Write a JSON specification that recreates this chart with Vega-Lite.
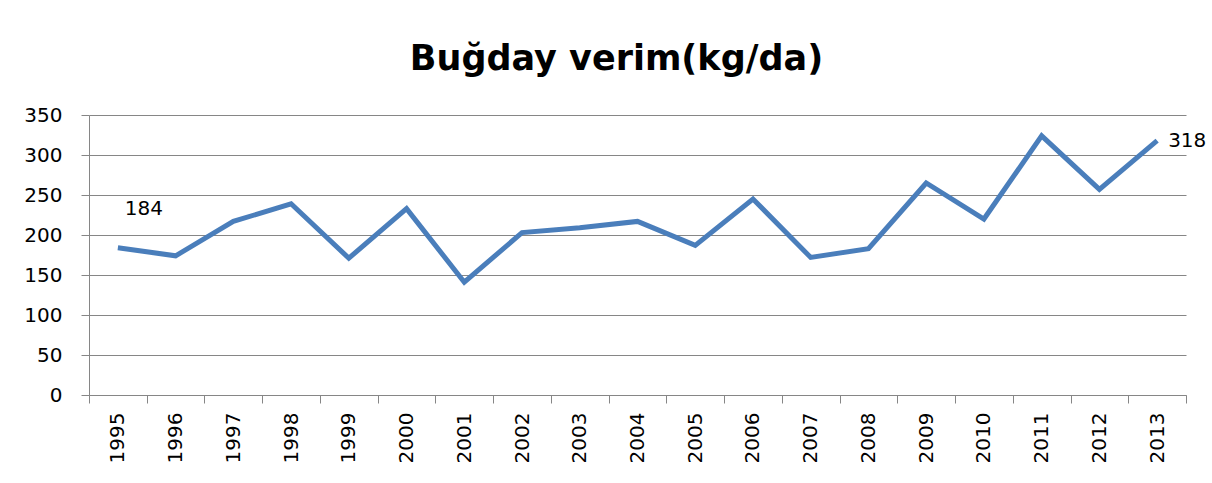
{
  "$schema": "https://vega.github.io/schema/vega-lite/v6.json",
  "width": 1097,
  "height": 280,
  "autosize": "none",
  "padding": {"left": 89, "top": 115, "right": 26, "bottom": 88},
  "background": "white",
  "config": {"view": {"stroke": null}},
  "title": {
    "text": "Buğday verim(kg/da)",
    "font": "DejaVu Sans",
    "fontSize": 35,
    "fontWeight": "bold",
    "color": "black",
    "anchor": "middle",
    "baseline": "alphabetic",
    "dx": -21,
    "offset": 0
  },
  "data": {
    "values": [
      {"year": 1995, "value": 184},
      {"year": 1996, "value": 174},
      {"year": 1997, "value": 217},
      {"year": 1998, "value": 239},
      {"year": 1999, "value": 171},
      {"year": 2000, "value": 233},
      {"year": 2001, "value": 141},
      {"year": 2002, "value": 203},
      {"year": 2003, "value": 209},
      {"year": 2004, "value": 217},
      {"year": 2005, "value": 187},
      {"year": 2006, "value": 245},
      {"year": 2007, "value": 172},
      {"year": 2008, "value": 183},
      {"year": 2009, "value": 265},
      {"year": 2010, "value": 220},
      {"year": 2011, "value": 324},
      {"year": 2012, "value": 257},
      {"year": 2013, "value": 318}
    ]
  },
  "encoding": {
    "x": {
      "field": "year",
      "type": "ordinal",
      "bandPosition": 0.5,
      "scale": {"type": "band", "paddingInner": 0, "paddingOuter": 0},
      "axis": {
        "title": null,
        "tickBand": "extent",
        "labelAngle": -90,
        "labelAlign": "right",
        "labelBaseline": "middle",
        "tickSize": 8,
        "labelPadding": 9,
        "domainColor": "#868686",
        "tickColor": "#868686",
        "labelFont": "DejaVu Sans",
        "labelFontSize": 20,
        "labelColor": "black",
        "grid": false
      }
    },
    "y": {
      "field": "value",
      "type": "quantitative",
      "scale": {"domain": [0, 350], "nice": false},
      "axis": {
        "title": null,
        "values": [0, 50, 100, 150, 200, 250, 300, 350],
        "grid": true,
        "gridColor": "#868686",
        "domainColor": "#868686",
        "tickColor": "#868686",
        "tickSize": 8,
        "labelPadding": 19,
        "labelFont": "DejaVu Sans",
        "labelFontSize": 20,
        "labelColor": "black"
      }
    }
  },
  "layer": [
    {"mark": {"type": "line", "color": "#4A7EBB", "strokeWidth": 5, "strokeJoin": "miter"}},
    {
      "transform": [{"filter": "datum.year == 1995"}],
      "mark": {"type": "text", "dx": 26, "dy": -39, "font": "DejaVu Sans", "fontSize": 20, "color": "black"},
      "encoding": {"text": {"field": "value", "type": "quantitative"}}
    },
    {
      "transform": [{"filter": "datum.year == 2013"}],
      "mark": {"type": "text", "dx": 11, "dy": 0, "align": "left", "baseline": "middle", "font": "DejaVu Sans", "fontSize": 20, "color": "black"},
      "encoding": {"text": {"field": "value", "type": "quantitative"}}
    }
  ]
}
